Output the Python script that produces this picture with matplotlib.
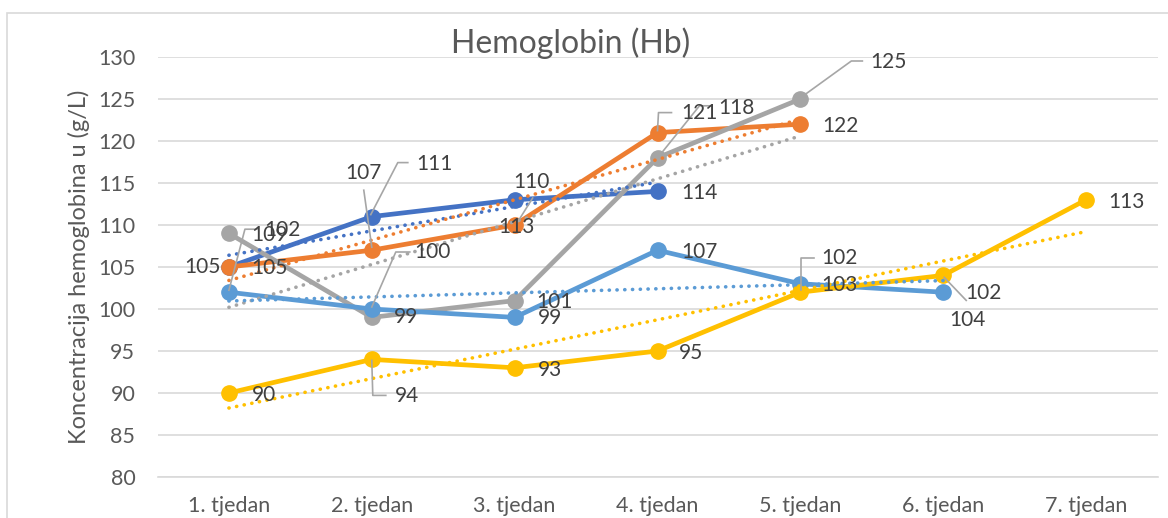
import numpy as np
import matplotlib
matplotlib.use("Agg")
import matplotlib.pyplot as plt
from matplotlib.transforms import IdentityTransform

plt.rcParams['font.family'] = ['Lato', 'DejaVu Sans']

weeks = ["1. tjedan", "2. tjedan", "3. tjedan", "4. tjedan", "5. tjedan", "6. tjedan", "7. tjedan"]
dark_blue = [105, 111, 113, 114]
orange = [105, 107, 110, 121, 122]
gray = [109, 99, 101, 118, 125]
light_blue = [102, 100, 99, 107, 103, 102]
yellow = [90, 94, 93, 95, 102, 104, 113]

series = [
    (dark_blue, "#4472C4"),
    (orange, "#ED7D31"),
    (gray, "#A5A5A5"),
    (light_blue, "#5B9BD5"),
    (yellow, "#FFC000"),
]

# data label texts as they appear on the chart: (series, point, text)
label_text = [
    (0, 0, "105"), (0, 1, "111"), (0, 2, "113"), (0, 3, "114"),
    (1, 0, "105"), (1, 1, "107"), (1, 2, "110"), (1, 3, "121"), (1, 4, "122"),
    (2, 0, "109"), (2, 1, "99"), (2, 2, "101"), (2, 3, "118"), (2, 4, "125"),
    (3, 0, "102"), (3, 1, "100"), (3, 2, "99"), (3, 3, "107"), (3, 4, "103"), (3, 5, "104"),
    (4, 0, "90"), (4, 1, "94"), (4, 2, "93"), (4, 3, "95"), (4, 4, "102"), (4, 5, "102"), (4, 6, "113"),
]
# label placement (pixel offsets from the point, y downward) and leader lines
label_pos = {
    (0, 0): (-26, 0), (0, 1): (63, -53), (0, 2): (2, 27), (0, 3): (42, 2),
    (1, 0): (41, 1), (1, 1): (-8, -77), (1, 2): (17, -43), (1, 3): (42, -20), (1, 4): (40, 2),
    (2, 0): (41, 2), (2, 1): (34, 0), (2, 2): (40, 1), (2, 3): (79, -50), (2, 4): (88, -37),
    (3, 0): (54, -62), (3, 1): (61, -57), (3, 2): (35, 1), (3, 3): (42, 2), (3, 4): (39, 1), (3, 5): (24, 28),
    (4, 0): (35, 2), (4, 1): (35, 37), (4, 2): (35, 2), (4, 3): (34, 2), (4, 4): (39, -34), (4, 5): (40, 18), (4, 6): (40, 2),
}
leaders = {
    (0, 1): [(-1, -2), (26, -54), (36, -54)],
    (1, 1): [(0, -3), (-8, -60)],
    (1, 2): [(3, -3), (18, -27)],
    (1, 3): [(0, -2), (1, -20), (14, -20)],
    (2, 3): [(5, -6), (42, -52), (52, -52)],
    (2, 4): [(4, -4), (51, -38), (62, -38)],
    (3, 0): [(0, -2), (16, -63), (28, -63)],
    (3, 1): [(0, -2), (24, -57), (38, -57)],
    (4, 1): [(0, 1), (1, 36), (14, 36)],
    (4, 4): [(1, -2), (1, -34), (14, -34)],
    (4, 5): [(1, 2), (23, 25)],
}

fig = plt.figure(figsize=(11.68, 5.18), dpi=100)
fig.patch.set_facecolor("white")
fig.add_artist(plt.Rectangle((7 / 1168, -0.2), 1.2, 1.2 - 13 / 518,
                             transform=fig.transFigure, fill=False,
                             edgecolor="#D9D9D9", lw=1.2))

ax = fig.add_axes([157.5 / 1168, 1 - 477 / 518, 1000 / 1168, 420 / 518])
ax.set_xlim(-0.5, 6.5)
ax.set_ylim(80, 130)
ax.set_yticks(np.arange(80, 131, 5))
ax.set_xticks(range(len(weeks)))
ax.set_xticklabels(weeks)
ax.grid(axis="y", color="#D9D9D9", lw=1.2)
ax.set_axisbelow(True)
for s in ["top", "right", "left"]:
    ax.spines[s].set_visible(False)
ax.spines["bottom"].set_color("#D9D9D9")
ax.spines["bottom"].set_linewidth(1.2)
ax.tick_params(length=0, colors="#595959", labelsize=15.5)
ax.tick_params(axis="x", pad=14)
ax.tick_params(axis="y", pad=16)
ax.set_ylabel("Koncentracija hemoglobina u (g/L)", fontsize=17, color="#595959", labelpad=6)
fig.text(571 / 1168, 1 - 43 / 518, "Hemoglobin (Hb)", fontsize=23, color="#595959",
         ha="center", va="center")

for vals, col in series:
    x = np.arange(len(vals))
    ax.plot(x, vals, color=col, lw=3.4, marker="o", markersize=11,
            solid_capstyle="round", zorder=3)

for vals, col in series:
    x = np.arange(len(vals))
    k, b = np.polyfit(x, vals, 1)
    ax.plot(x, k * x + b, color=col, lw=2.6, linestyle=(0, (0.05, 2.1)),
            dash_capstyle="round", zorder=4)

fig.canvas.draw()
for si, pi, txt in label_text:
    vals = series[si][0]
    px, py = ax.transData.transform((pi, vals[pi]))
    dx, dy = label_pos[(si, pi)]
    if (si, pi) in leaders:
        pts = leaders[(si, pi)]
        ax.add_line(plt.Line2D([px + a for a, _ in pts], [py - c for _, c in pts],
                               transform=IdentityTransform(), color="#A6A6A6",
                               lw=1.2, zorder=5))
    ax.text(px + dx, py - dy, txt, transform=IdentityTransform(), ha="center",
            va="center", fontsize=15, color="#404040", zorder=6)

fig.savefig("out.png", dpi=100, facecolor="white")
